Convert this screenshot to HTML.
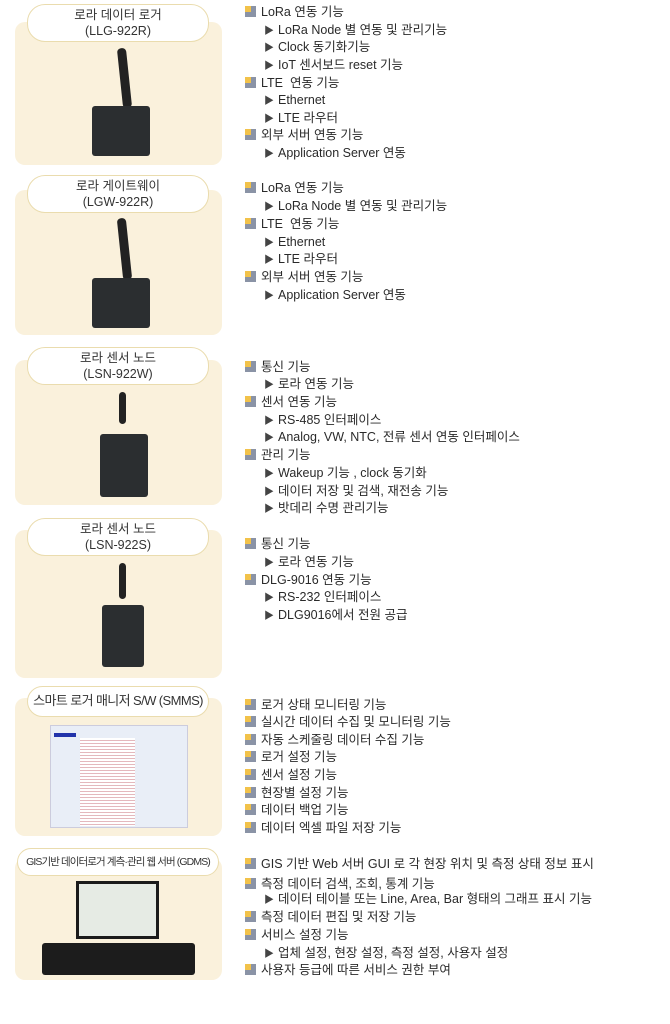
<!DOCTYPE html>
<html><head><meta charset="utf-8">
<style>
*{margin:0;padding:0;box-sizing:border-box}
body{width:670px;height:1024px;background:#fff;position:relative;overflow:hidden;font-family:"Liberation Sans","Noto Sans CJK KR",sans-serif;color:#222}
.p{position:absolute;left:15px;width:207px;background:#faf1dc;border-radius:10px}
.lb{position:absolute;left:27px;width:182px;background:#fff;border:1.5px solid #eadcae;border-radius:18px;text-align:center;font-size:12.5px;line-height:16px;color:#333;white-space:nowrap;overflow:hidden}
.t{position:absolute;font-size:12.5px;line-height:18px;white-space:nowrap;color:#2a2a2a}
.m{left:245px}
.m::before{content:"";display:inline-block;width:11px;height:11px;margin-right:5px;vertical-align:-1px;background:#f2c24a;box-shadow:inset -5px -5px 0 #8a93a6}
.s{left:264px}
.s::before{content:"▶";font-size:10px;margin-right:4px;color:#444}
.dev{position:absolute;background:#2b2e30;border-radius:3px}
.ant{position:absolute;background:#222;border-radius:4px}
</style></head><body>

<div class="p" style="top:22px;height:143px"></div>
<div class="lb" style="top:4px;height:38px;padding-top:2px">로라 데이터 로거<br>(LLG-922R)</div>
<div class="ant" style="left:120px;top:48px;width:9px;height:60px;transform:rotate(-6deg)"></div>
<div class="dev" style="left:92px;top:106px;width:58px;height:50px"></div>

<div class="p" style="top:190px;height:145px"></div>
<div class="lb" style="top:175px;height:38px;padding-top:2px">로라 게이트웨이<br>(LGW-922R)</div>
<div class="ant" style="left:120px;top:218px;width:9px;height:62px;transform:rotate(-6deg)"></div>
<div class="dev" style="left:92px;top:278px;width:58px;height:50px"></div>

<div class="p" style="top:360px;height:145px"></div>
<div class="lb" style="top:347px;height:38px;padding-top:2px">로라 센서 노드<br>(LSN-922W)</div>
<div class="ant" style="left:119px;top:392px;width:7px;height:32px"></div>
<div class="dev" style="left:100px;top:434px;width:48px;height:63px"></div>

<div class="p" style="top:530px;height:148px"></div>
<div class="lb" style="top:518px;height:38px;padding-top:2px">로라 센서 노드<br>(LSN-922S)</div>
<div class="ant" style="left:119px;top:563px;width:7px;height:36px"></div>
<div class="dev" style="left:102px;top:605px;width:42px;height:62px"></div>

<div class="p" style="top:698px;height:138px"></div>
<div class="lb" style="top:686px;height:31px;padding-top:6px;font-size:13px;letter-spacing:-0.6px">스마트 로거 매니저 S/W (SMMS)</div>
<div style="position:absolute;left:50px;top:725px;width:138px;height:103px;background:#e9eef7;border:1px solid #ccd"></div>
<div style="position:absolute;left:80px;top:738px;width:55px;height:88px;background:repeating-linear-gradient(#fff 0 2px,#e4b8bd 2px 3px)"></div>
<div style="position:absolute;left:54px;top:733px;width:22px;height:4px;background:#2233aa"></div>

<div class="p" style="top:858px;height:122px"></div>
<div class="lb" style="top:848px;left:17px;width:202px;height:28px;padding-top:5px;font-size:10.5px;letter-spacing:-0.9px">GIS기반 데이터로거 계측·관리 웹 서버 (GDMS)</div>
<div style="position:absolute;left:76px;top:881px;width:83px;height:58px;background:#1a1a1a;padding:3px"><div style="width:100%;height:100%;background:#e6ebe4"></div></div>
<div style="position:absolute;left:42px;top:943px;width:153px;height:32px;background:#1c1c1c;border-radius:3px"></div>

<div class="t m" style="top:3px">LoRa 연동 기능</div>
<div class="t s" style="top:21px">LoRa Node 별 연동 및 관리기능</div>
<div class="t s" style="top:38px">Clock 동기화기능</div>
<div class="t s" style="top:56px">IoT 센서보드 reset 기능</div>
<div class="t m" style="top:74px">LTE &nbsp;연동 기능</div>
<div class="t s" style="top:91px">Ethernet</div>
<div class="t s" style="top:109px">LTE 라우터</div>
<div class="t m" style="top:126px">외부 서버 연동 기능</div>
<div class="t s" style="top:144px">Application Server 연동</div>

<div class="t m" style="top:179px">LoRa 연동 기능</div>
<div class="t s" style="top:197px">LoRa Node 별 연동 및 관리기능</div>
<div class="t m" style="top:215px">LTE &nbsp;연동 기능</div>
<div class="t s" style="top:233px">Ethernet</div>
<div class="t s" style="top:250px">LTE 라우터</div>
<div class="t m" style="top:268px">외부 서버 연동 기능</div>
<div class="t s" style="top:286px">Application Server 연동</div>

<div class="t m" style="top:358px">통신 기능</div>
<div class="t s" style="top:375px">로라 연동 기능</div>
<div class="t m" style="top:393px">센서 연동 기능</div>
<div class="t s" style="top:411px">RS-485 인터페이스</div>
<div class="t s" style="top:428px">Analog, VW, NTC, 전류 센서 연동 인터페이스</div>
<div class="t m" style="top:446px">관리 기능</div>
<div class="t s" style="top:464px">Wakeup 기능 , clock 동기화</div>
<div class="t s" style="top:482px">데이터 저장 및 검색, 재전송 기능</div>
<div class="t s" style="top:499px">밧데리 수명 관리기능</div>

<div class="t m" style="top:535px">통신 기능</div>
<div class="t s" style="top:553px">로라 연동 기능</div>
<div class="t m" style="top:571px">DLG-9016 연동 기능</div>
<div class="t s" style="top:588px">RS-232 인터페이스</div>
<div class="t s" style="top:606px">DLG9016에서 전원 공급</div>

<div class="t m" style="top:696px">로거 상태 모니터링 기능</div>
<div class="t m" style="top:713px">실시간 데이터 수집 및 모니터링 기능</div>
<div class="t m" style="top:731px">자동 스케줄링 데이터 수집 기능</div>
<div class="t m" style="top:748px">로거 설정 기능</div>
<div class="t m" style="top:766px">센서 설정 기능</div>
<div class="t m" style="top:784px">현장별 설정 기능</div>
<div class="t m" style="top:801px">데이터 백업 기능</div>
<div class="t m" style="top:819px">데이터 엑셀 파일 저장 기능</div>

<div class="t m" style="top:855px">GIS 기반 Web 서버 GUI 로 각 현장 위치 및 측정 상태 정보 표시</div>
<div class="t m" style="top:875px">측정 데이터 검색, 조회, 통계 기능</div>
<div class="t s" style="top:890px">데이터 테이블 또는 Line, Area, Bar 형태의 그래프 표시 기능</div>
<div class="t m" style="top:908px">측정 데이터 편집 및 저장 기능</div>
<div class="t m" style="top:926px">서비스 설정 기능</div>
<div class="t s" style="top:944px">업체 설정, 현장 설정, 측정 설정, 사용자 설정</div>
<div class="t m" style="top:961px">사용자 등급에 따른 서비스 권한 부여</div>
</body></html>
